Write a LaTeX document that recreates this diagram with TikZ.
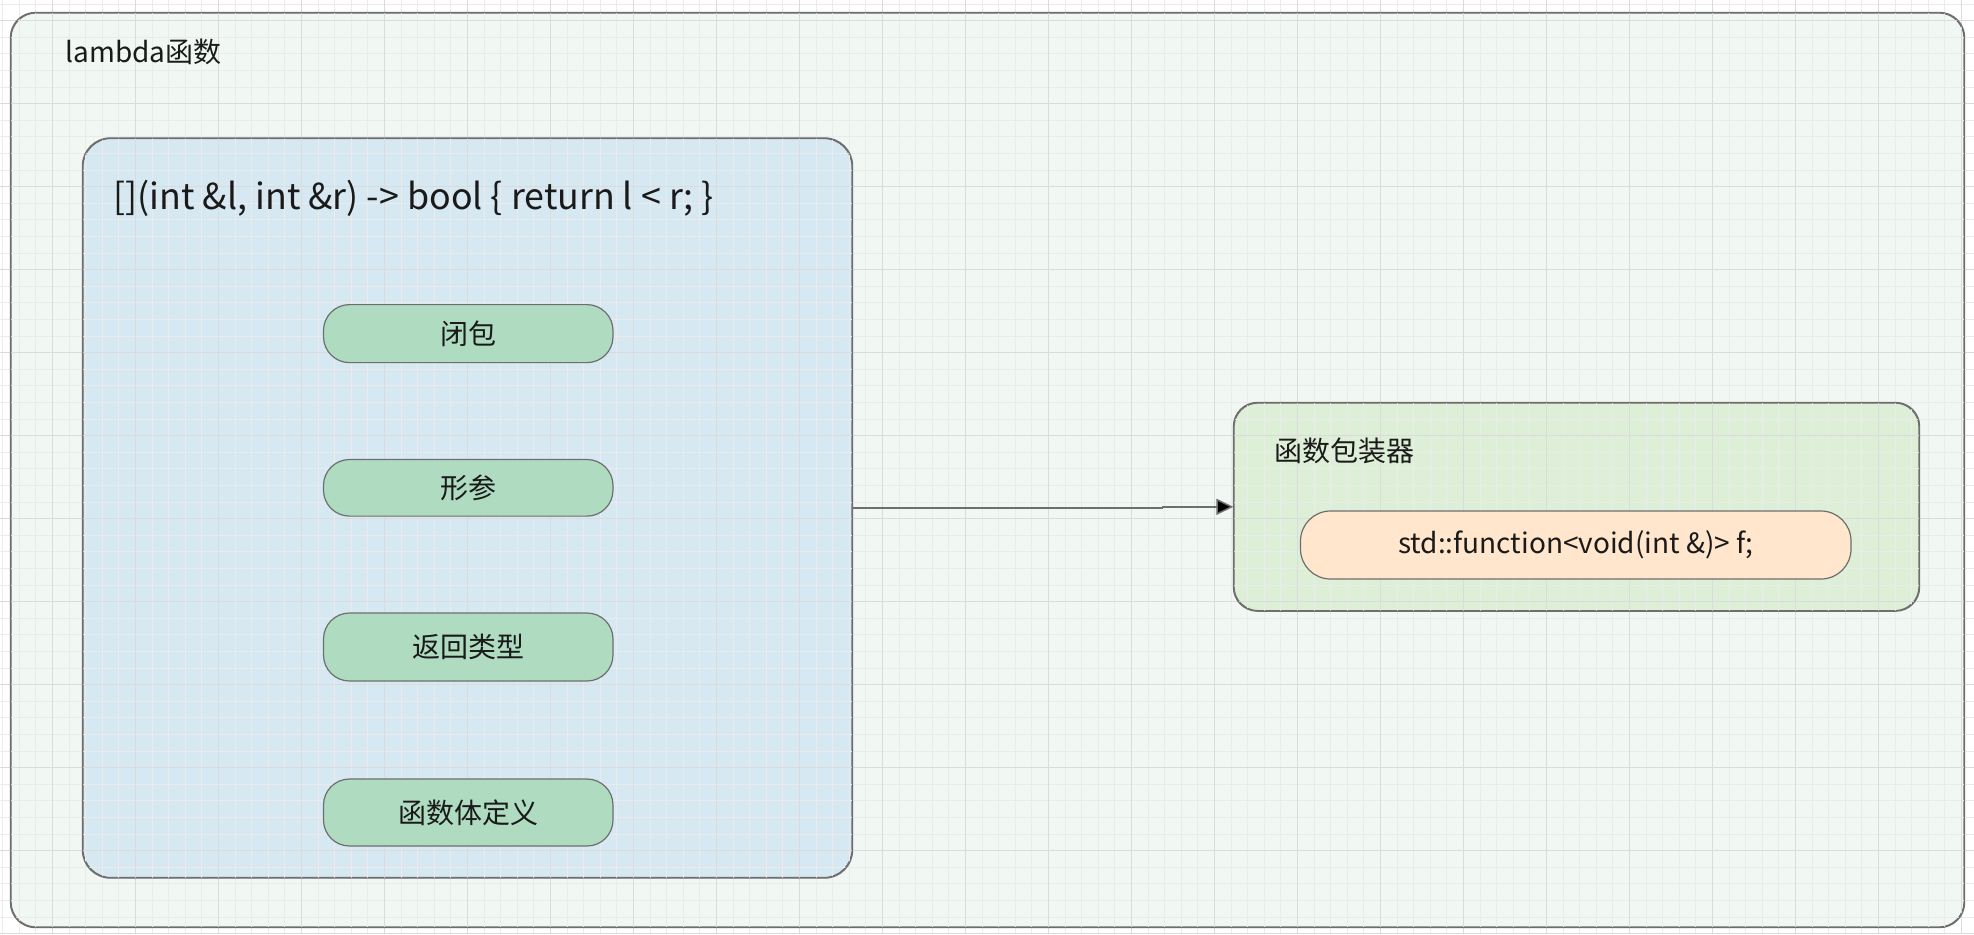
\documentclass[tikz,border=0pt]{standalone}
\usepackage{fontspec}
\setmainfont{Noto Sans CJK SC}
\usetikzlibrary{arrows.meta}

\definecolor{pagefill}{HTML}{F1F7F2}
\definecolor{lamfill}{HTML}{D6E9F3}
\definecolor{partfill}{HTML}{AFDBC0}
\definecolor{wrapfill}{HTML}{DDEFD6}
\definecolor{funcfill}{HTML}{FFE6CC}
\definecolor{edgegray}{HTML}{6E6E6E}
\definecolor{inkcol}{HTML}{1A1A1A}

\begin{document}
\begin{tikzpicture}[x=0.5pt,y=-0.5pt]
    \tikzstyle{frame}=[draw=edgegray,line width=0.6pt,inner sep=0pt]
    \tikzstyle{part}=[frame,fill=partfill,rounded corners=13pt,minimum width=144.75pt,font=\fontsize{14}{16}\selectfont,text=inkcol]
    \tikzstyle{caption}=[anchor=west,inner sep=0pt,text=inkcol,font=\fontsize{14}{16}\selectfont]
    \tikzstyle{gridminor}=[black!8,line width=0.4pt]
    \tikzstyle{gridmajor}=[black!14,line width=0.4pt]
    \tikzstyle{flow}=[edgegray,line width=0.75pt,-{Triangle[length=8.5pt,width=8pt,fill=black]}]

    \useasboundingbox[fill=white] (0,0) rectangle (1974,934);

    % containers
    \node[frame,fill=pagefill,rounded corners=12.5pt,minimum width=976.5pt,minimum height=457pt] at (987.5,470) (page) {};
    \node[frame,fill=lamfill,rounded corners=14pt,minimum width=384.5pt,minimum height=369.5pt] at (467.5,508) (lam) {};
    \node[frame,fill=wrapfill,rounded corners=12pt,minimum width=342.5pt,minimum height=103.8pt] at (1576.5,506.8) (wrap) {};

    % background grid
    \foreach \gx in {0,...,118}
        \draw[gridminor] ({2.5+\gx*16.6},0) -- ({2.5+\gx*16.6},934);
    \foreach \gy in {0,...,56}
        \draw[gridminor] (0,{4+\gy*16.6}) -- (1974,{4+\gy*16.6});
    \foreach \gx in {0,...,23}
        \draw[gridmajor] ({52.3+\gx*83},0) -- ({52.3+\gx*83},934);
    \foreach \gy in {0,...,11}
        \draw[gridmajor] (0,{20.6+\gy*83}) -- (1974,{20.6+\gy*83});

    % redraw container borders over the grid
    \draw[draw=edgegray,line width=0.6pt,rounded corners=12.5pt] (page.north west) rectangle (page.south east);
    \draw[draw=edgegray,line width=0.6pt,rounded corners=14pt] (lam.north west) rectangle (lam.south east);
    \draw[draw=edgegray,line width=0.6pt,rounded corners=12pt] (wrap.north west) rectangle (wrap.south east);

    \node[caption] at (65,52) (pagetitle) {lambda函数};
    \node[caption,font=\fontsize{17.9}{20}\selectfont] at (113,198) (lamcode) {[](int \&l, int \&r) -> bool \{ return l < r; \}};
    \node[caption] at (1274,451) (wraptitle) {函数包装器};

    \node[part,minimum height=29pt] at (468.25,333.6) (capture) {闭包};
    \node[part,minimum height=28.3pt] at (468.25,487.8) (params) {形参};
    \node[part,minimum height=34pt] at (468.25,647) (rettype) {返回类型};
    \node[part,minimum height=33.5pt] at (468.25,812.5) (body) {函数体定义};

    \node[part,fill=funcfill,rounded corners=15pt,minimum width=275.25pt,minimum height=34pt] at (1575.75,545) (func) {std::function<void(int \&)> f;};

    \draw[flow] (lam.east) -- ++(310,0) |- (wrap.west);
\end{tikzpicture}
\end{document}
